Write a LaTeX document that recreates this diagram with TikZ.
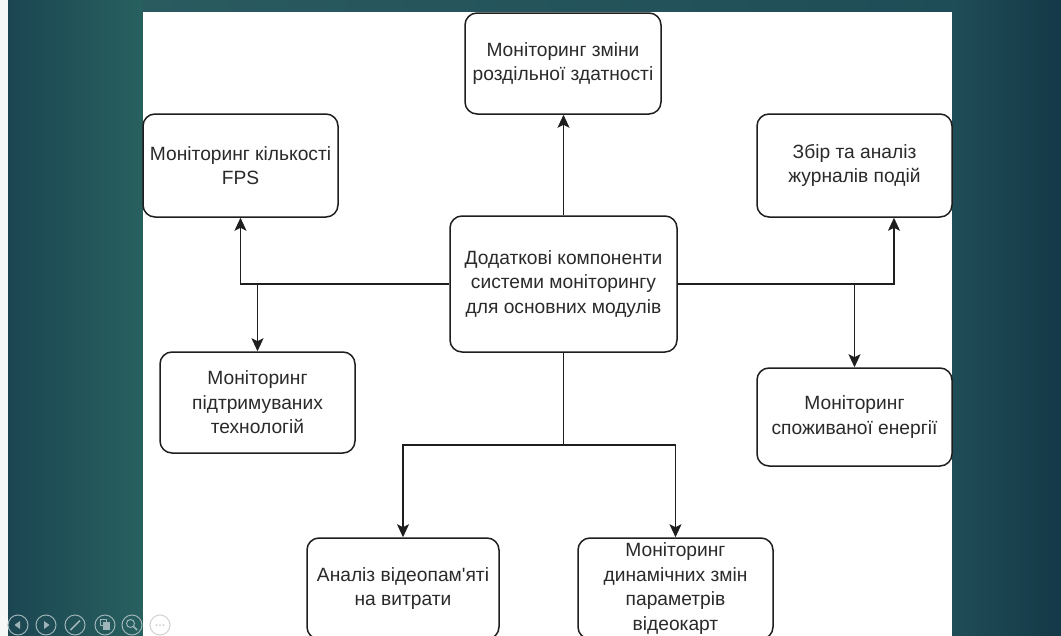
\documentclass[tikz,border=0pt]{standalone}
\usepackage{fontspec}
\setmainfont{Liberation Sans}
\usetikzlibrary{arrows.meta,calc}
\definecolor{bgl}{HTML}{1B4652}
\definecolor{bgli}{HTML}{28605F}
\definecolor{bgtop}{HTML}{2A5B5F}
\definecolor{bgri}{HTML}{1F4D57}
\definecolor{bgr}{HTML}{143847}
\definecolor{boxline}{HTML}{1E1E1E}
\definecolor{txt}{HTML}{2A2A2A}
\definecolor{ctrl}{HTML}{9FB4B8}
\begin{document}
\begin{tikzpicture}[x=1pt,y=-1pt,
  box/.style={draw=boxline, line width=1.5pt, rounded corners=12pt, fill=white,
    align=center, text=txt, inner sep=0pt,
    font=\fontsize{19.2}{24.5}\selectfont},
  link/.style={draw=boxline, line width=1.5pt,
    -{Stealth[length=13pt,width=12pt,inset=3pt]}},
  plain/.style={draw=boxline, line width=1.5pt},
  ctrlring/.style={draw=ctrl, line width=1pt},
]
\useasboundingbox (0,0) rectangle (1061,635);
\clip (0,0) rectangle (1061,635);

% slide background and white canvas
\fill[bgtop] (0,0) rectangle (1061,640);
\shade[left color=bgl, right color=bgli] (8,-1) rectangle (143,640);
\shade[left color=bgtop, right color=bgri] (143,-1) rectangle (952,12);
\shade[left color=bgri, right color=bgr] (952,-1) rectangle (1062,640);
\fill[white] (143,12) rectangle (952,640);
\fill[white!96!bgl] (-1,-1) rectangle (8,640);

% nodes
\node[box, minimum width=227pt, minimum height=136pt] (main) at (563.5,284)
  {Додаткові компоненти\\системи моніторингу\\для основних модулів};
\node[box, minimum width=196pt, minimum height=101pt] (res) at (563,63.5)
  {Моніторинг зміни\\роздільної здатності};
\node[box, minimum width=195pt, minimum height=103pt] (fps) at (240.5,165.5)
  {Моніторинг кількості\\FPS};
\node[box, minimum width=195pt, minimum height=103pt] (logs) at (854.5,165.5)
  {Збір та аналіз\\журналів подій};
\node[box, minimum width=195pt, minimum height=101pt] (tech) at (257.5,402.5)
  {Моніторинг\\підтримуваних\\технологій};
\node[box, minimum width=195pt, minimum height=98pt] (energy) at (854.5,417)
  {Моніторинг\\споживаної енергії};
\node[box, minimum width=192pt, minimum height=101pt] (vram) at (403,588.5)
  {Аналіз відеопам\textquotesingle яті\\на витрати};
\node[box, minimum width=195pt, minimum height=101pt] (gpu) at (675.5,588.5)
  {Моніторинг\\динамічних змін\\параметрів\\відеокарт};

% connectors
\draw[link] (main.north) -- (main.north |- res.south);
\draw[link] (main.west) -| (fps.south);
\draw[link] (main.west -| tech.north) -- (tech.north);
\draw[link] (main.east) -| ([xshift=39.5pt]logs.south);
\draw[link] (main.east -| energy.north) -- (energy.north);
\coordinate (bj) at ($(main.south)+(0,92)$);
\draw[plain] (main.south) -- (bj);
\draw[link] (bj) -| (vram.north);
\draw[link] (bj) -| (gpu.north);

% slideshow controls
\foreach \cx in {18,46,75,105,132} \draw[ctrlring] (\cx,625) circle (10);
\draw[draw=black!18, line width=1pt] (160,625) circle (10);
\fill[ctrl] (14.5,625) -- (20,621) -- (20,629) -- cycle;
\fill[ctrl] (49.5,625) -- (44,621) -- (44,629) -- cycle;
\draw[ctrl, line width=1.6pt] (70.5,630) -- (80,620.5);
\draw[ctrl, line width=1pt] (100,619) rectangle (106,625);
\fill[ctrl] (103,622) rectangle (110,630);
\draw[ctrl, line width=1pt] (130.5,623.5) circle (4);
\draw[ctrl, line width=1.5pt] (133.5,626.5) -- (137,630);
\foreach \dx in {-3.5,0,3.5} \fill[black!20] (160+\dx,625) circle (1);
\end{tikzpicture}
\end{document}
